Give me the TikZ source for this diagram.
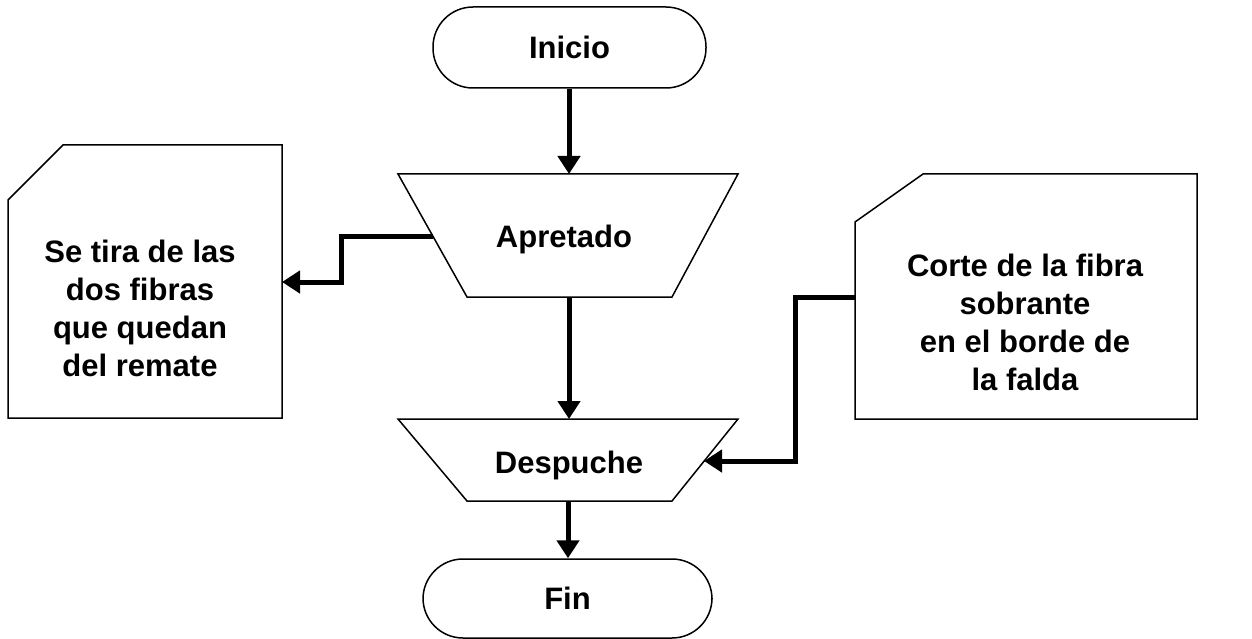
\documentclass[tikz,border=0pt]{standalone}
\usepackage{fontspec}
\setmainfont{Liberation Sans}
\usetikzlibrary{arrows.meta}
\begin{document}
\begin{tikzpicture}[x=1pt,y=-1pt,
  shapeline/.style={draw=black,line width=1.5pt,line join=miter},
  term/.style={shapeline,rectangle,rounded corners=40pt,inner sep=0pt},
  lbl/.style={inner sep=0pt,font=\fontsize{31}{38}\selectfont\bfseries,align=center},
  conn/.style={line width=5pt,-{Triangle[length=18pt,width=22pt]}},
  connplain/.style={line width=5pt}]
\useasboundingbox (0,0) rectangle (1252,639);
% terminals
\node[term,minimum width=273pt,minimum height=81pt,lbl] (inicio) at (569.5,47.5) {Inicio};
\node[term,minimum width=289pt,minimum height=79pt,lbl] (fin) at (567.5,598.5) {Fin};
% Apretado trapezoid
\draw[shapeline] (398,174) coordinate (apTL) -- (738,174) coordinate (apTR) -- (672,297) coordinate (apBR) -- (467,297) coordinate (apBL) -- cycle;
\coordinate (apTop) at (569,174);
\coordinate (apBot) at (569,297);
\coordinate (apLeft) at (432.8,236);
\node[lbl,anchor=base] (apretado) at (564,247) {Apretado};
% Despuche trapezoid
\draw[shapeline] (398,419) coordinate (deTL) -- (738,419) coordinate (deTR) -- (672,501) coordinate (deBR) -- (467,501) coordinate (deBL) -- cycle;
\coordinate (deTop) at (569,419);
\coordinate (deBot) at (568,501);
\coordinate (deRight) at (704,461);
\node[lbl,anchor=base] (despuche) at (569,473) {Despuche};
% left card
\draw[shapeline] (8,200) -- (63,145) -- (282,145) -- (282,418) -- (8,418) -- cycle;
\coordinate (lcRight) at (282,282);
\node[lbl] (lcard) at (140,308) {Se tira de las\\dos fibras\\que quedan\\del remate};
% right card
\draw[shapeline] (855,222) -- (923,174) -- (1197,174) -- (1197,419) -- (855,419) -- cycle;
\coordinate (rcLeft) at (855,297);
\node[lbl] (rcard) at (1025,322) {Corte de la fibra\\sobrante\\en el borde de\\la falda};
% connectors
\draw[conn] (inicio.south -| apTop) -- (apTop);
\draw[conn] (apBot) -- (deTop);
\draw[conn] (deBot) -- (fin.north -| deBot);
\draw[conn] (apLeft) -- (341,236) -- (341,282) -- (lcRight);
\draw[conn] (rcLeft) -- (795,297) -- (795,461) -- (deRight);
\end{tikzpicture}
\end{document}
